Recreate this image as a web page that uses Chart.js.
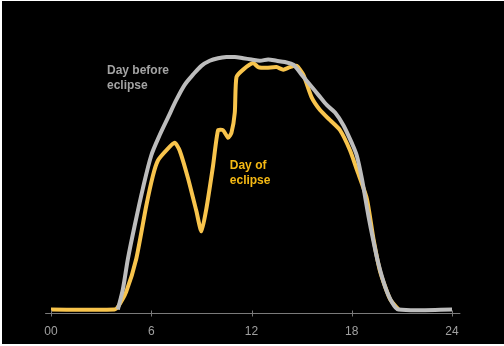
<!DOCTYPE html>
<html>
<head>
  <meta charset="UTF-8">
  <title>Solar output during eclipse</title>
  <style>
    body {
      margin: 0;
      background-color: #fff;
    }
    .chart-box {
      position: absolute;
      left: 2px;
      top: 1px;
      width: 502px;
      height: 343px;
      background: #000;
    }
  </style>
</head>
<body>

  <div class="chart-box">
    <canvas id="eclipseChart" width="502" height="343"></canvas>
  </div>

  <script src="https://cdn.jsdelivr.net/npm/chart.js"></script>
  <script>
    // Hour of day and relative output
    const beforeHours = [4.0, 4.3, 4.6, 5.0, 5.5, 6.0, 6.5, 7.0, 7.5, 8.0, 8.5, 9.0, 9.5, 10.0, 10.5, 11.0, 11.5, 12.0, 12.5, 13.0, 13.5, 14.0, 14.5, 15.0, 15.5, 16.0, 16.5, 17.0, 17.5, 18.0, 18.3, 18.6, 19.0, 19.3, 19.6, 20.0, 20.4, 20.8, 24.0];
    const beforeValues = [0, 8, 20, 33, 48, 61, 69, 76, 83, 89, 93, 96.5, 98.5, 99.5, 100, 100, 99.5, 99, 98.5, 99, 98.5, 98, 97, 93, 89, 85, 81, 78, 73, 66, 61, 52, 37, 27, 18, 9, 3, 0, 0];

    const dayOfHours = [0, 3.8, 4.0, 4.5, 5.1, 5.7, 6.1, 6.4, 6.9, 7.4, 7.7, 8.2, 8.7, 9.0, 9.3, 9.7, 10.0, 10.3, 10.6, 10.8, 11.0, 11.1, 11.5, 12.1, 12.4, 12.9, 13.5, 13.9, 14.3, 14.7, 15.1, 15.6, 16.1, 16.7, 17.3, 17.9, 18.3, 18.9, 19.3, 19.7, 20.3, 20.8];
    const dayOfValues = [0, 0, 1, 7, 20, 41, 53, 59, 63, 66, 63, 52, 39, 31, 40, 57, 71, 71, 68, 70, 78, 92, 95, 97.6, 96, 95.7, 96, 95, 96, 96.5, 93, 84, 79, 75, 71, 63, 55.5, 44, 28, 15, 4, 0];

    const xTicks = [0, 6, 12, 18, 24];
    const xTickLabels = ['00', '6', '12', '18', '24'];

    const toPoints = (xs, ys) => xs.map((x, i) => ({ x: x, y: ys[i] }));

    // axis line with ticks crossing it, plus the two line labels
    const decorations = {
      id: 'decorations',
      afterDatasetsDraw(chart) {
        const ctx = chart.ctx;
        const x = chart.scales.x;
        const y = chart.scales.y;
        const axisY = Math.round(chart.chartArea.bottom) + 0.5;

        ctx.save();
        ctx.strokeStyle = '#7a7a7a';
        ctx.lineWidth = 1;
        ctx.beginPath();
        ctx.moveTo(x.getPixelForValue(-0.35), axisY);
        ctx.lineTo(x.getPixelForValue(24.5), axisY);
        xTicks.forEach(t => {
          const px = Math.round(x.getPixelForValue(t)) + 0.5;
          ctx.moveTo(px, axisY - 3);
          ctx.lineTo(px, axisY + 3);
        });
        ctx.stroke();

        ctx.font = 'bold 12px "Liberation Sans", Arial, sans-serif';
        ctx.textBaseline = 'middle';
        ctx.fillStyle = '#a3a3a3';
        ctx.fillText('Day before', x.getPixelForValue(3.35), y.getPixelForValue(94.5));
        ctx.fillText('eclipse', x.getPixelForValue(3.35), y.getPixelForValue(88.5));
        ctx.fillStyle = '#f5b914';
        ctx.fillText('Day of', x.getPixelForValue(10.7), y.getPixelForValue(57));
        ctx.fillText('eclipse', x.getPixelForValue(10.7), y.getPixelForValue(51));
        ctx.restore();
      }
    };

    new Chart(document.getElementById('eclipseChart').getContext('2d'), {
      type: 'line',
      data: {
        datasets: [
          {
            label: 'Day before eclipse',
            data: toPoints(beforeHours, beforeValues),
            borderColor: '#bdbdbd',
            borderWidth: 4,
            pointRadius: 0,
            tension: 0.3,
            clip: false
          },
          {
            label: 'Day of eclipse',
            data: toPoints(dayOfHours, dayOfValues),
            borderColor: '#f8c44c',
            borderWidth: 4,
            pointRadius: 0,
            tension: 0.2,
            clip: false
          }
        ]
      },
      options: {
        responsive: false,
        animation: false,
        layout: { padding: { left: 49, right: 52, top: 56, bottom: -7 } },
        plugins: {
          legend: { display: false },
          tooltip: { enabled: false }
        },
        scales: {
          x: {
            type: 'linear',
            min: 0,
            max: 24,
            afterBuildTicks: axis => { axis.ticks = xTicks.map(v => ({ value: v })); },
            ticks: {
              color: '#a0a0a0',
              font: { family: '"Liberation Sans", Arial, sans-serif', size: 12 },
              padding: 12,
              maxRotation: 0,
              autoSkip: false,
              callback: v => xTickLabels[xTicks.indexOf(v)]
            },
            grid: { display: false, drawTicks: false },
            border: { display: false }
          },
          y: {
            display: false,
            min: -1.2,
            max: 100
          }
        }
      },
      plugins: [decorations]
    });
  </script>
</body>
</html>
